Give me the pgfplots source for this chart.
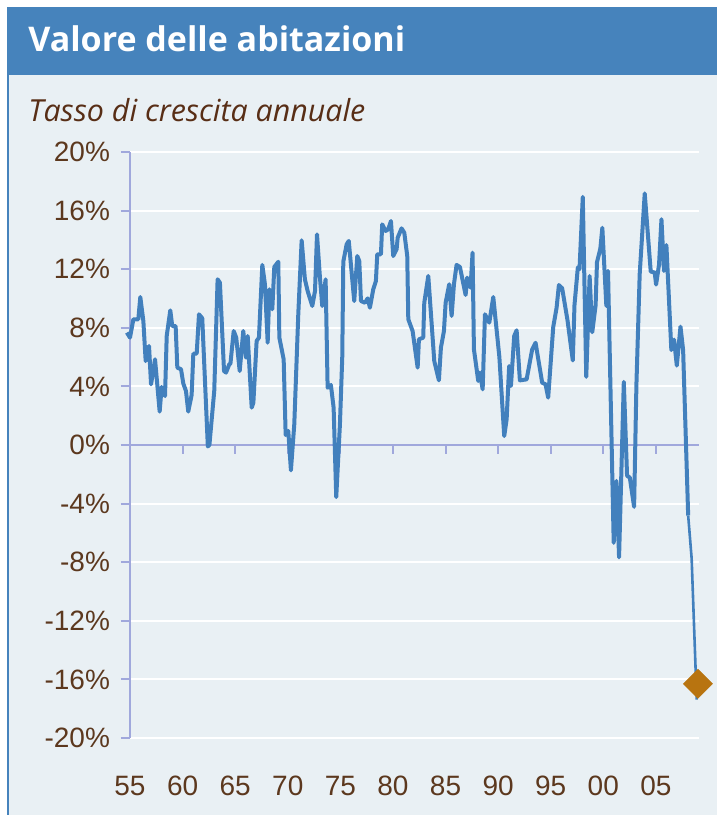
\documentclass[border=0pt]{standalone}
\usepackage{pgfplots}
\usepackage{pgfplotstable}
\pgfplotsset{compat=1.18}
\usepackage{fontspec}
\setmainfont{Liberation Sans}
\newfontfamily\headfont{Open Sans}

\definecolor{barblue}{RGB}{70,131,188}
\definecolor{panelbg}{RGB}{233,240,244}
\definecolor{linecol}{RGB}{66,128,189}
\definecolor{axiscol}{RGB}{160,168,220}
\definecolor{labbrown}{RGB}{92,56,30}
\definecolor{subbrown}{RGB}{88,46,22}
\definecolor{diacol}{RGB}{184,116,16}

% annual growth rate of house prices
\pgfplotstableread{
yr      val
1954.70 7.67
1955.00 7.33
1955.32 8.58
1955.79 8.58
1955.98 10.10
1956.27 8.46
1956.49 5.73
1956.81 6.76
1957.00 4.14
1957.38 5.85
1957.82 2.28
1958.01 3.96
1958.33 3.34
1958.49 7.44
1958.83 9.19
1959.02 8.12
1959.34 8.12
1959.50 5.28
1959.85 5.17
1960.07 4.19
1960.32 3.69
1960.54 2.28
1960.86 3.41
1961.02 6.23
1961.34 6.23
1961.56 8.92
1961.87 8.65
1962.40 -0.10
1962.55 0.00
1963.01 3.69
1963.33 11.31
1963.55 11.08
1963.94 5.05
1964.13 4.94
1964.44 5.51
1964.55 5.55
1964.86 7.78
1965.10 7.33
1965.43 5.05
1965.77 7.78
1966.03 5.96
1966.19 7.44
1966.57 2.55
1966.73 2.89
1967.04 7.10
1967.26 7.33
1967.58 12.29
1967.83 10.97
1968.09 6.98
1968.25 10.63
1968.53 9.26
1968.72 12.15
1969.10 12.51
1969.20 7.33
1969.61 5.85
1969.80 0.68
1970.05 0.96
1970.30 -1.73
1970.62 1.41
1971.00 8.92
1971.32 13.97
1971.63 11.31
1971.89 10.51
1972.33 9.49
1972.59 10.51
1972.78 14.38
1973.06 11.42
1973.28 9.49
1973.60 11.31
1973.79 3.91
1974.10 4.10
1974.36 2.55
1974.61 -3.55
1974.96 1.41
1975.18 5.96
1975.28 12.51
1975.60 13.70
1975.80 13.93
1976.32 9.83
1976.61 12.90
1976.80 12.56
1976.96 9.83
1977.34 9.71
1977.60 10.01
1977.81 9.37
1978.13 10.63
1978.38 11.19
1978.51 13.02
1978.86 13.02
1978.98 15.06
1979.31 14.61
1979.55 14.72
1979.81 15.29
1980.03 12.90
1980.35 13.36
1980.45 14.15
1980.82 14.79
1981.08 14.49
1981.36 12.90
1981.46 8.58
1981.87 7.78
1982.35 5.28
1982.47 7.21
1982.88 7.33
1982.98 9.71
1983.36 11.54
1983.93 5.73
1984.37 4.41
1984.56 6.64
1984.85 7.78
1985.01 9.71
1985.35 10.97
1985.58 8.81
1985.80 10.97
1986.05 12.29
1986.37 12.15
1986.91 10.24
1987.06 11.42
1987.38 10.74
1987.57 13.13
1987.70 6.53
1988.11 4.37
1988.27 4.94
1988.53 3.80
1988.75 8.92
1989.16 8.35
1989.54 10.10
1990.12 6.00
1990.58 0.61
1990.81 1.75
1991.05 5.39
1991.22 4.03
1991.53 7.44
1991.76 7.83
1992.07 4.41
1992.71 4.48
1993.24 6.53
1993.56 6.98
1994.19 4.25
1994.51 4.14
1994.76 3.23
1995.24 8.05
1995.56 9.37
1995.78 10.92
1996.09 10.70
1996.60 8.50
1997.10 5.77
1997.26 9.54
1997.58 12.12
1997.74 12.01
1998.05 16.94
1998.38 4.65
1998.70 11.54
1998.95 7.70
1999.27 9.54
1999.40 12.47
1999.72 13.41
1999.91 14.83
2000.29 9.49
2000.45 11.88
2000.99 -6.68
2001.25 -2.45
2001.50 -7.67
2001.95 4.31
2002.26 -2.10
2002.52 -2.22
2002.93 -4.22
2003.15 4.13
2003.46 11.65
2003.94 17.17
2004.51 11.84
2004.89 11.77
2005.02 10.95
2005.30 12.31
2005.53 15.41
2005.77 11.88
2006.00 13.65
2006.47 6.48
2006.73 7.19
2006.99 5.42
2007.34 8.08
2007.59 6.48
2008.07 -4.81
}\housing

% latest monthly readings, thinner line
\pgfplotstableread{
yr      val
2008.07 -4.81
2008.40 -7.74
2008.88 -17.38
}\latest

\begin{document}
\begin{tikzpicture}
% frame
\fill[white] (0,0) rectangle (358.5pt,407.5pt);
\fill[panelbg] (4pt,0) rectangle (358.5pt,404pt);
\fill[barblue] (4pt,370pt) rectangle (358.5pt,404pt);
\draw[barblue,line width=1.1pt] (4pt,0) -- (4pt,404pt);
\node[anchor=base west,inner sep=0,text=white,font=\headfont\bfseries\fontsize{17}{20}\selectfont]
  at (14pt,381.5pt) {Valore delle abitazioni};
\node[anchor=base west,inner sep=0,text=subbrown,font=\headfont\itshape\fontsize{15.2}{18}\selectfont]
  at (14pt,346.5pt) {Tasso di crescita annuale};

\begin{axis}[
    at={(65pt,38.5pt)},anchor=south west,
    scale only axis,
    width=284.5pt,height=293pt,
    xmin=1955,xmax=2009.1,
    ymin=-20,ymax=20,
    clip=false,
    axis y line*=left,
    axis x line*=bottom,
    x axis line style={draw=none},
    y axis line style={draw=axiscol,line width=1pt},
    xtick={1955,1960,...,2005},
    xticklabels={55,60,65,70,75,80,85,90,95,00,05},
    xtick style={draw=none},
    ytick={-20,-16,...,20},
    yticklabels={-20\%,-16\%,-12\%,-8\%,-4\%,0\%,4\%,8\%,12\%,16\%,20\%},
    ytick style={draw=axiscol,line width=1pt},
    tick align=outside,
    major tick length=4.5pt,
    ymajorgrids,
    grid style={white,line width=1pt},
    tick label style={text=labbrown,font=\fontsize{14}{16}\selectfont},
    xticklabel style={anchor=north,yshift=-11pt},
    yticklabel style={anchor=east,xshift=-2pt},
]
% zero line with year ticks
\draw[axiscol,line width=1pt] (axis cs:1955,0) -- (axis cs:2009.1,0);
\pgfplotsinvokeforeach{1960,1965,1970,1975,1980,1985,1990,1995,2000,2005}{
  \draw[axiscol,line width=1pt] (axis cs:#1,0) -- (axis cs:#1,-0.6);
}

\addplot[linecol,line width=2pt,line join=round] table[x=yr,y=val] {\housing};
\addplot[linecol,line width=1.3pt,line join=round] table[x=yr,y=val] {\latest};
\addplot[only marks,mark=square*,mark size=5.1pt,
  mark options={rotate=45,fill=diacol,draw=diacol}]
  coordinates {(2009.0,-16.3)};
\end{axis}

\pgfresetboundingbox
\useasboundingbox (0,0) rectangle (358.5pt,407.5pt);
\end{tikzpicture}
\end{document}
